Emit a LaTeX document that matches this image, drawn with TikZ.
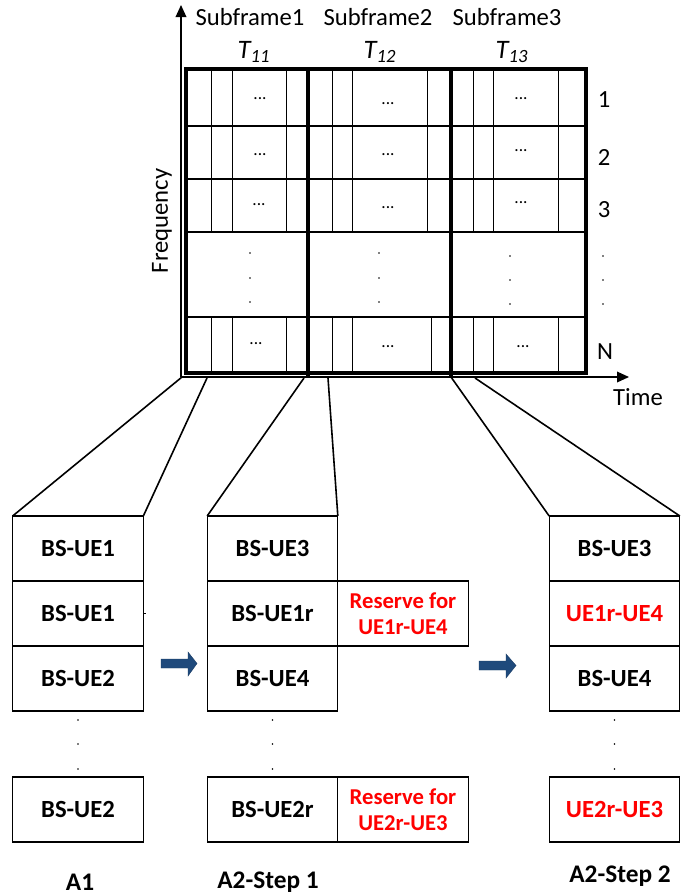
\documentclass[tikz,border=0pt]{standalone}
\usepackage{fontspec}
\setmainfont{Carlito}
\usetikzlibrary{arrows.meta}
\definecolor{arrowblue}{HTML}{1F4A7C}
\definecolor{resred}{HTML}{FF0000}
\newcommand{\cellfont}{\fontsize{18.5}{21}\selectfont\bfseries}
\newcommand{\redfont}{\fontsize{17}{19.5}\selectfont\bfseries\color{resred}}
\newcommand{\topfont}{\fontsize{18.5}{21}\selectfont}
\begin{document}
\begin{tikzpicture}[x=0.75pt,y=-0.75pt,
  cell/.style={draw, line width=0.8pt, inner sep=0pt, outer sep=0pt,
    minimum width=98pt, minimum height=48.75pt, font=\cellfont},
  redcell/.style={cell, font=\redfont, align=center},
  zoomline/.style={line width=1.2pt},
  thick grid/.style={line width=2.4pt},
  row line/.style={line width=1.3pt},
  thin line/.style={line width=0.7pt},
  axis/.style={line width=1pt, -{Triangle[length=9pt,width=8pt]}},
  lbl/.style={font=\topfont, inner sep=0pt},
  tlbl/.style={font=\fontsize{20}{23}\selectfont\itshape, inner sep=0pt},
  small dots/.style={font=\fontsize{13}{15}\selectfont, inner sep=0pt},
  caption/.style={font=\fontsize{19}{22}\selectfont\bfseries, inner sep=0pt},
  blockarrow/.style={fill=arrowblue, draw=arrowblue!80!black, line width=0.3pt}
]
\useasboundingbox (0,0) rectangle (686,896);

% ---------------- time-frequency grid ----------------
% thin verticals (rows 1-3)
\foreach \x in {211,232,286,332,352,427,473,493,558}
  \draw[thin line] (\x,69) -- (\x,232);
% thin verticals (row N)
\foreach \x in {211,232,286,332,352,431,473,493,558}
  \draw[thin line] (\x,317) -- (\x,373);
% row lines
\foreach \y in {126,179,232,317}
  \draw[row line] (186,\y) -- (586,\y);
% subframe dividers and outer frame
\draw[thick grid] (308,69) -- (308,377);
\draw[thick grid] (451,69) -- (451,377);
\draw[thick grid] (186,69) rectangle (586,373);

% axes
\coordinate (O) at (181,377);
\coordinate (Ytip) at (181,5);
\coordinate (Xtip) at (629,377);
\draw[axis] (O) -- (Ytip);
\draw[axis] (O) -- (Xtip);
\node[lbl] (time) at (638,397) {Time};
\node[lbl, rotate=90] (freq) at (162,221) {Frequency};

% subframe labels
\node[lbl] (sf1) at (250,17) {Subframe1};
\node[lbl] (sf2) at (378,17) {Subframe2};
\node[lbl] (sf3) at (507,17) {Subframe3};
\node[tlbl] (t11) at (254,52) {T\textsubscript{11}};
\node[tlbl] (t12) at (380,52) {T\textsubscript{12}};
\node[tlbl] (t13) at (512,52) {T\textsubscript{13}};

% row labels
\node[lbl] (r1) at (604,100) {1};
\node[lbl] (r2) at (604,157) {2};
\node[lbl] (r3) at (604,210) {3};
\node[lbl] (rN) at (605,352) {N};

% ellipses in cells
\foreach \x/\y in {260/99,388/104,521/99,
                   260/155,388/155,521/151,
                   259/205,388/208,521/203,
                   256/344,388/347,523/347}
  \node[small dots] at (\x,\y) {...};
% vertical dots in the gap row and right column
\foreach \x/\a/\b/\c in {250/253/278/302, 379/253/278/302, 510/256/280/304, 603/256/280/304}
  \foreach \y in {\a,\b,\c}
    \fill (\x,\y) circle (0.9);

% ---------------- zoom points on time axis ----------------
\coordinate (z1a) at (182,377);
\coordinate (z1b) at (207,378);
\coordinate (z2a) at (304,378);
\coordinate (z2b) at (328,378);
\coordinate (z3a) at (451,377);
\coordinate (z3b) at (475,378);

% ---------------- A1 ----------------
\node[cell] (a1r1) at (78,548.5) {BS-UE1};
\node[cell] (a1r2) at (78,613.5) {BS-UE1};
\node[cell] (a1r3) at (78,678.5) {BS-UE2};
\node[cell] (a1r4) at (78,809.5) {BS-UE2};
\draw[line width=0.6pt] (a1r2.east) -- ++(3,0);

% ---------------- A2-Step 1 ----------------
\node[cell] (b1r1) at (272.5,548.5) {BS-UE3};
\node[cell] (b1r2) at (272.5,613.5) {BS-UE1r};
\node[redcell] (b1x2) at (403,613.5) {Reserve for\\UE1r-UE4};
\node[cell] (b1r3) at (272.5,678.5) {BS-UE4};
\node[cell] (b1r4) at (272.5,809.5) {BS-UE2r};
\node[redcell] (b1x4) at (403,809.5) {Reserve for\\UE2r-UE3};

% ---------------- A2-Step 2 ----------------
\node[cell] (c1r1) at (614.5,548.5) {BS-UE3};
\node[redcell, font=\cellfont\color{resred}] (c1r2) at (614.5,613.5) {UE1r-UE4};
\node[cell] (c1r3) at (614.5,678.5) {BS-UE4};
\node[redcell, font=\cellfont\color{resred}] (c1r4) at (614.5,809.5) {UE2r-UE3};

% vertical dots between boxes
\foreach \x in {78,272.5,614.5}
  \foreach \y in {720,744,769}
    \fill (\x,\y) circle (0.9);

% zoom connectors
\draw[zoomline] (z1a) -- (a1r1.north west);
\draw[zoomline] (z1b) -- (a1r1.north east);
\draw[zoomline] (z2a) -- (b1r1.north west);
\draw[zoomline] (z2b) -- (b1r1.north east);
\draw[zoomline] (z3a) -- (c1r1.north west);
\draw[zoomline] (z3b) -- (c1r1.north east);

% block arrows
\fill[blockarrow] (161,659) -- (188,659) -- (188,652) -- (197,663.5) -- (188,676) -- (188,668) -- (161,668) -- cycle;
\fill[blockarrow] (479,661) -- (506,661) -- (506,654) -- (516,665.5) -- (506,678) -- (506,670) -- (479,670) -- cycle;

% captions
\node[caption] (capA1) at (80,882) {A1};
\node[caption] (capA2s1) at (268,882) {A2-Step 1};
\node[caption] (capA2s2) at (620,876) {A2-Step 2};
\end{tikzpicture}
\end{document}
